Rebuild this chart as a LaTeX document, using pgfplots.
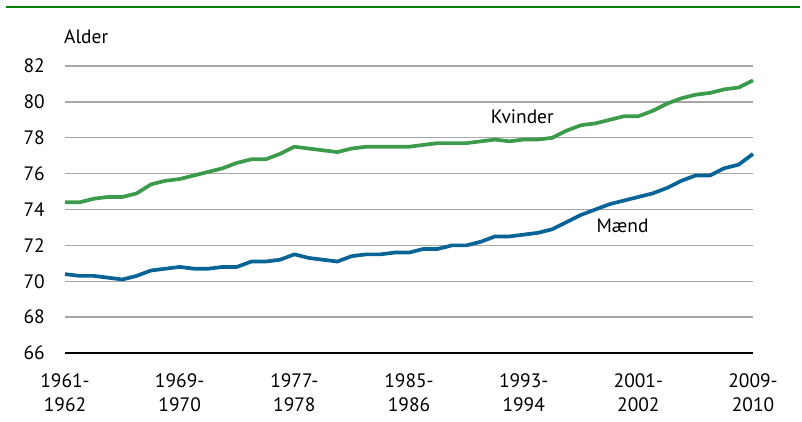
\documentclass[border=0pt]{standalone}
\usepackage{pgfplots}
\pgfplotsset{compat=1.18}
\usepackage{fontspec}
\setmainfont{PT Sans}
\definecolor{kgreen}{RGB}{60,155,75}
\definecolor{mblue}{RGB}{8,100,150}
\definecolor{topgreen}{RGB}{0,128,0}
\definecolor{gridgray}{RGB}{166,166,166}
\begin{document}
\begin{tikzpicture}[x=1bp,y=1bp]
\path[use as bounding box] (0,0) rectangle (802,-421);
\draw[topgreen, line width=2.5bp] (6,-7) -- (800,-7);
\node[anchor=west, inner sep=0pt, font=\fontsize{19.5}{23}\selectfont] at (64,-37) {Alder};
\begin{axis}[
  at={(65bp,-353bp)}, anchor=south west,
  scale only axis, width=688bp, height=287bp,
  xmin=1961, xmax=2009, ymin=66, ymax=82,
  axis line style={draw=none},
  major tick length=0pt,
  ytick={66,68,...,82},
  xtick={1961,1969,1977,1985,1993,2001,2009},
  xticklabels={{1961-\\1962},{1969-\\1970},{1977-\\1978},{1985-\\1986},{1993-\\1994},{2001-\\2002},{2009-\\2010}},
  ymajorgrids, grid style={gridgray, line width=1.4bp},
  /pgf/number format/assume math mode=true,
  ticklabel style={font=\fontsize{19.5}{25}\selectfont},
  yticklabel style={anchor=east, inner sep=0pt, xshift=-20bp},
  xticklabel style={align=center, anchor=north, inner sep=0pt, yshift=-20bp},
  clip=false,
]
\addplot[kgreen, line width=3.7bp, line join=round] coordinates {
(1961,74.4)(1962,74.4)(1963,74.6)(1964,74.7)(1965,74.7)(1966,74.9)(1967,75.4)(1968,75.6)(1969,75.7)(1970,75.9)
(1971,76.1)(1972,76.3)(1973,76.6)(1974,76.8)(1975,76.8)(1976,77.1)(1977,77.5)(1978,77.4)(1979,77.3)(1980,77.2)
(1981,77.4)(1982,77.5)(1983,77.5)(1984,77.5)(1985,77.5)(1986,77.6)(1987,77.7)(1988,77.7)(1989,77.7)(1990,77.8)
(1991,77.9)(1992,77.8)(1993,77.9)(1994,77.9)(1995,78.0)(1996,78.4)(1997,78.7)(1998,78.8)(1999,79.0)(2000,79.2)
(2001,79.2)(2002,79.5)(2003,79.9)(2004,80.2)(2005,80.4)(2006,80.5)(2007,80.7)(2008,80.8)(2009,81.2)
};
\addplot[mblue, line width=3.7bp, line join=round] coordinates {
(1961,70.4)(1962,70.3)(1963,70.3)(1964,70.2)(1965,70.1)(1966,70.3)(1967,70.6)(1968,70.7)(1969,70.8)(1970,70.7)
(1971,70.7)(1972,70.8)(1973,70.8)(1974,71.1)(1975,71.1)(1976,71.2)(1977,71.5)(1978,71.3)(1979,71.2)(1980,71.1)
(1981,71.4)(1982,71.5)(1983,71.5)(1984,71.6)(1985,71.6)(1986,71.8)(1987,71.8)(1988,72.0)(1989,72.0)(1990,72.2)
(1991,72.5)(1992,72.5)(1993,72.6)(1994,72.7)(1995,72.9)(1996,73.3)(1997,73.7)(1998,74.0)(1999,74.3)(2000,74.5)
(2001,74.7)(2002,74.9)(2003,75.2)(2004,75.6)(2005,75.9)(2006,75.9)(2007,76.3)(2008,76.5)(2009,77.1)
};
\draw[black, line width=2.2bp] (axis cs:1961,66) -- (axis cs:2009,66);
\node[font=\fontsize{19.5}{23}\selectfont, inner sep=0pt] at (axis cs:1992.9,79.15) {Kvinder};
\node[font=\fontsize{19.5}{23}\selectfont, inner sep=0pt] at (axis cs:1999.9,73.1) {Mænd};
\end{axis}
\end{tikzpicture}
\end{document}
